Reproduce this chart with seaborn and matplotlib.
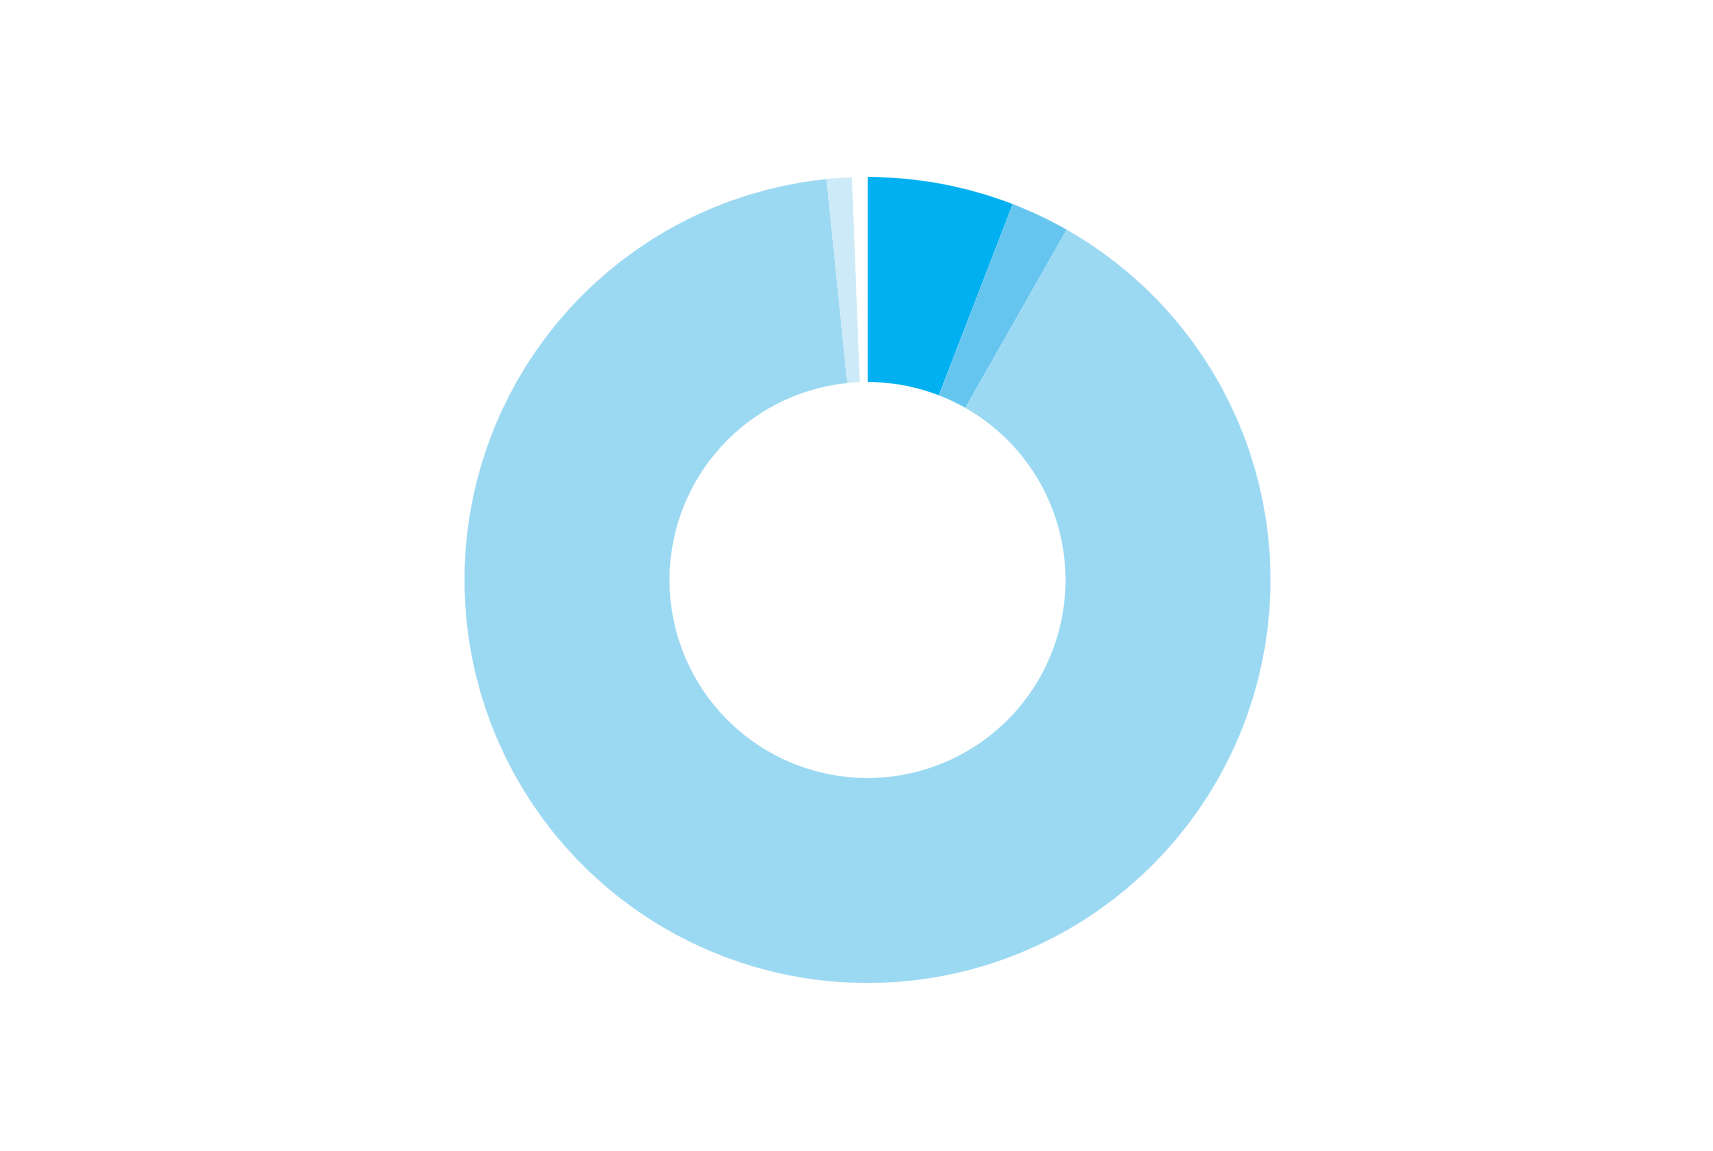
import matplotlib
matplotlib.use("Agg")
import seaborn as sns
from matplotlib import pyplot as plt

# slice shares, clockwise from 12 o'clock
labels = ["A", "B", "C", "D", "gap"]
values = [5.87, 2.36, 90.15, 1.01, 0.61]
colors = ["#00B0F0", "#66C5EE", "#9BD9F3", "#CCEAF7", "#FFFFFF"]

sns.set_theme(style="white")

fig = plt.figure(figsize=(17.13, 11.51), dpi=100)
W, H = 1713, 1151
cx, cy, r = 867.5, 1151 - 580, 403
ax = fig.add_axes([(cx - r) / W, (cy - r) / H, 2 * r / W, 2 * r / H])

ax.pie(values, colors=colors, startangle=90, counterclock=False, radius=1,
       wedgeprops=dict(width=1 - 198 / 403, linewidth=0))
ax.set_xlim(-1, 1)
ax.set_ylim(-1, 1)
ax.set_aspect("equal")
ax.axis("off")

fig.savefig("out.png", dpi=100, facecolor="white")
